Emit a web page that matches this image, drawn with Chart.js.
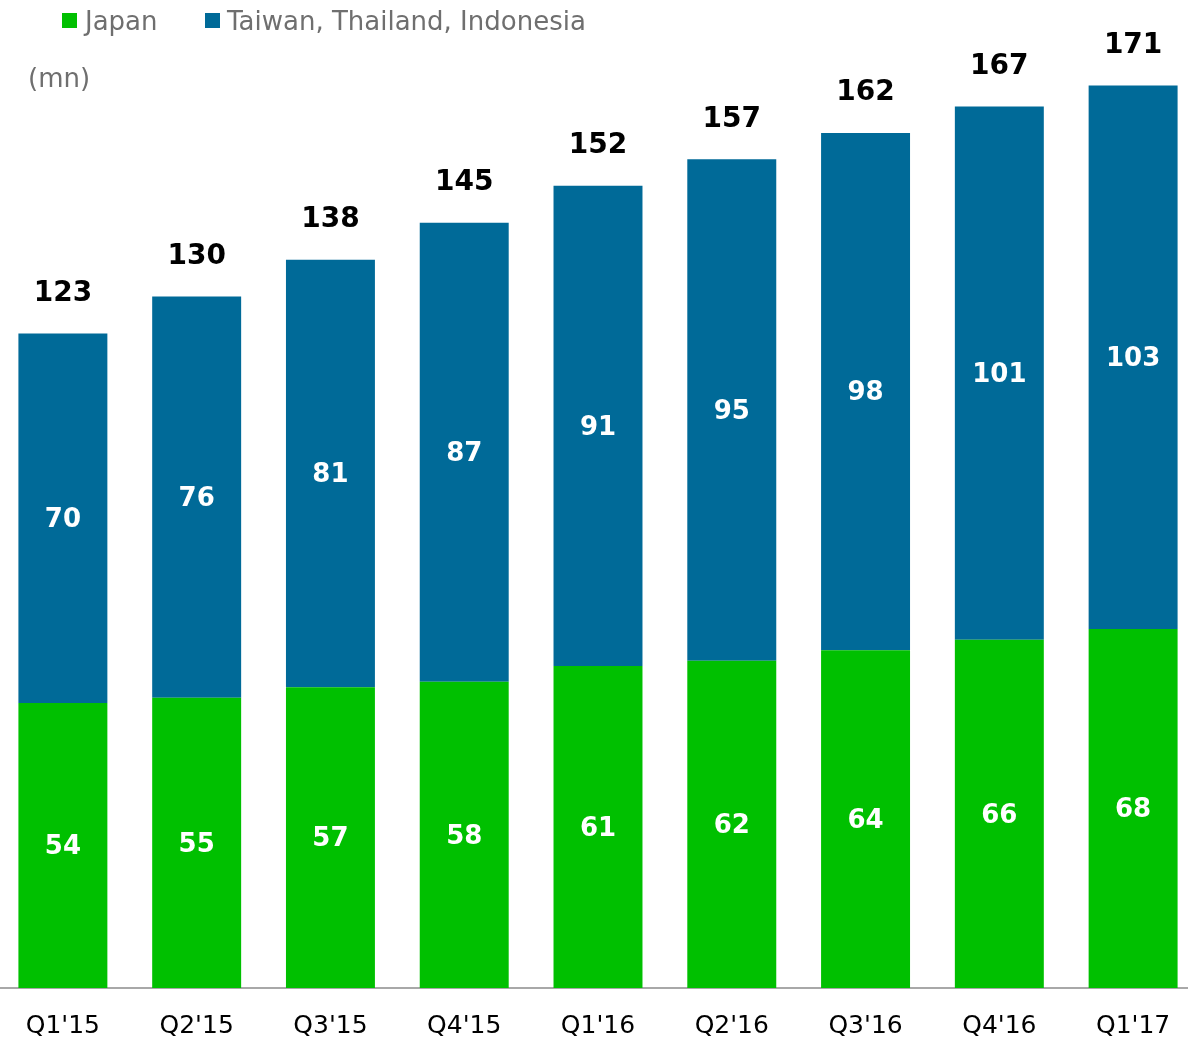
<!DOCTYPE html>
<html>
<head>
<meta charset="utf-8">
<script src="https://cdn.jsdelivr.net/npm/chart.js@4"></script>
<style>
  html, body { margin: 0; padding: 0; background: #fff; overflow: hidden; }
  body { width: 1188px; height: 1060px; position: relative; font-family: "DejaVu Sans", Verdana, sans-serif; }
  #wrap { position: absolute; left: -4px; top: 0; width: 1204px; height: 1064px; }
  .lg { position: absolute; font-size: 26px; color: #6f6f6f; line-height: 30px; white-space: nowrap; }
  .sw { position: absolute; width: 15px; height: 15px; }
</style>
</head>
<body>
<div id="wrap"><canvas id="c"></canvas></div>
<div class="sw" style="left:62px;top:13px;background:#00c000"></div>
<div class="lg" style="left:85px;top:6px">Japan</div>
<div class="sw" style="left:205px;top:13px;background:#006a98"></div>
<div class="lg" style="left:227px;top:6px">Taiwan, Thailand, Indonesia</div>
<div class="lg" style="left:28px;top:63px">(mn)</div>
<script>
const categories = ["Q1'15","Q2'15","Q3'15","Q4'15","Q1'16","Q2'16","Q3'16","Q4'16","Q1'17"];
const japan = [54,55,57,58,61,62,64,66,68];
const others = [70,76,81,87,91,95,98,101,103];
const totals = [123,130,138,145,152,157,162,167,171];

const labelPlugin = {
  id: 'labels',
  afterDatasetsDraw(chart) {
    const ctx = chart.ctx;
    ctx.save();
    ctx.textAlign = 'center';
    ctx.textBaseline = 'middle';
    ctx.font = 'bold 26px "DejaVu Sans", Verdana, sans-serif';
    ctx.fillStyle = '#ffffff';
    chart.data.datasets.forEach((ds, di) => {
      const meta = chart.getDatasetMeta(di);
      meta.data.forEach((bar, i) => {
        const p = bar.getProps(['x','y','base'], true);
        ctx.fillText(String(ds.data[i]), p.x, (p.y + p.base) / 2 + 2);
      });
    });
    const top = chart.getDatasetMeta(1);
    ctx.font = 'bold 28px "DejaVu Sans", Verdana, sans-serif';
    ctx.fillStyle = '#000000';
    top.data.forEach((bar, i) => {
      const p = bar.getProps(['x','y'], true);
      ctx.fillText(String(totals[i]), p.x, p.y - 40);
    });
    ctx.restore();
  }
};

new Chart(document.getElementById('c'), {
  type: 'bar',
  data: {
    labels: categories,
    datasets: [
      { label: 'Japan', data: japan, backgroundColor: '#00c000', borderWidth: 0 },
      { label: 'Taiwan, Thailand, Indonesia', data: others, backgroundColor: '#006a98', borderWidth: 0 }
    ]
  },
  options: {
    responsive: true,
    maintainAspectRatio: false,
    animation: false,
    layout: { padding: { top: 1, bottom: 0, left: 0, right: 0 } },
    plugins: { legend: { display: false }, tooltip: { enabled: false } },
    datasets: { bar: { categoryPercentage: 1.0, barPercentage: 0.665 } },
    scales: {
      x: {
        stacked: true,
        grid: { display: false, drawTicks: false },
        border: { display: true, color: '#a8a8a8', width: 2 },
        ticks: { color: '#000000', padding: 23, font: { family: '"DejaVu Sans", Verdana, sans-serif', size: 25 } }
      },
      y: {
        stacked: true,
        display: false,
        min: 0,
        max: 187
      }
    }
  },
  plugins: [labelPlugin]
});
</script>
</body>
</html>
